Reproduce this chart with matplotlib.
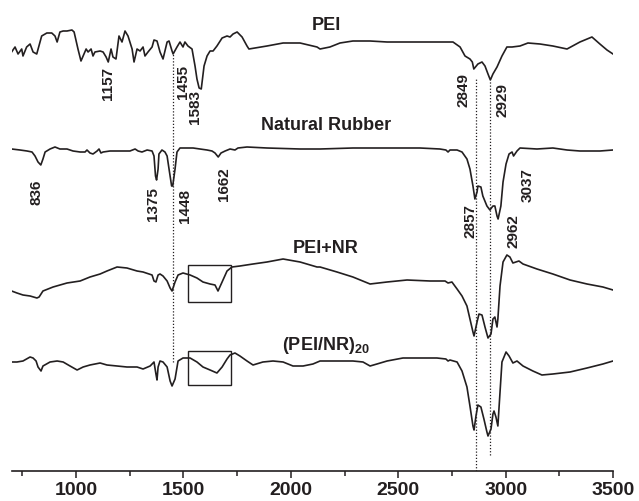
import numpy as np
import matplotlib
matplotlib.use('Agg')
import matplotlib.pyplot as plt
from matplotlib.patches import Rectangle

plt.rcParams['font.family'] = ['Liberation Sans', 'DejaVu Sans']
plt.rcParams['font.weight'] = 'bold'
plt.rcParams['mathtext.fontset'] = 'custom'
plt.rcParams['mathtext.rm'] = 'Liberation Sans'
plt.rcParams['mathtext.bf'] = 'Liberation Sans:bold'

ink = '#231f20'

# ---- spectra (wavenumber, relative signal) ----
pei_x = [700, 716, 730, 747, 753, 770, 786, 800, 817, 840, 864, 887, 902, 912, 925, 940, 958, 981, 991,
         1009, 1023, 1033, 1047, 1056, 1070, 1079, 1088, 1112, 1126, 1140, 1150, 1163, 1172, 1186, 1200,
         1214, 1228, 1242, 1261, 1270, 1284, 1298, 1312, 1321, 1335, 1354, 1363, 1377, 1391, 1405, 1424,
         1433, 1447, 1452, 1470, 1484, 1498, 1507, 1521, 1540, 1554, 1563, 1573, 1583, 1596, 1610, 1624,
         1638, 1656, 1680, 1703, 1717, 1731, 1750, 1773, 1796, 1805, 1889, 1964, 2043, 2122, 2136, 2182,
         2229, 2289, 2369, 2448, 2522, 2601, 2680, 2755, 2788, 2811, 2834, 2845, 2852, 2871, 2890, 2904,
         2918, 2929, 2941, 2960, 2983, 3006, 3030, 3067, 3104, 3160, 3220, 3286, 3346, 3402, 3439, 3472, 3500]
pei_y = [-3, 2, -5, 0, -7, 2, 5, -3, -5, 13, 16, 16, 13, 7, 17, 18, 18, 19, 17,
         0, -12, -7, 0, -3, 0, -7, -3, -2, -3, -8, -13, 0, -8, -10, 13,
         7, 18, 13, 0, -13, 0, -2, 2, -7, -3, 2, 9, 8, -3, -10, 7,
         8, -2, -5, 2, 7, 2, 7, 3, 0, -17, -30, -39, -40, -17, -7, -2,
         -2, 3, 11, 13, 12, 15, 17, 12, 3, 0, 3, 6, 6, 2, 0, 2,
         6, 8, 8, 7, 7, 7, 7, 7, 2, -7, -10, -13, -20, -15, -13, -17,
         -25, -31, -25, -18, -7, 2, 2, 3, 6, 5, 3, 0, 7, 12, 5, -1, -5]

nr_x = [700, 739, 772, 795, 809, 823, 836, 846, 856, 879, 902, 925, 958, 986, 1019, 1042, 1051, 1065,
        1079, 1098, 1107, 1116, 1126, 1158, 1205, 1251, 1275, 1289, 1307, 1331, 1354, 1363, 1370, 1375,
        1382, 1386, 1400, 1414, 1424, 1433, 1445, 1450, 1461, 1470, 1484, 1517, 1545, 1577, 1610, 1633,
        1647, 1662, 1675, 1694, 1717, 1740, 1754, 1796, 1889, 2043, 2136, 2289, 2448, 2601, 2694, 2722,
        2732, 2741, 2774, 2797, 2820, 2834, 2848, 2857, 2867, 2871, 2885, 2894, 2913, 2927, 2941, 2950,
        2960, 2965, 2978, 2988, 3002, 3016, 3030, 3037, 3053, 3067, 3146, 3220, 3286, 3346, 3439, 3500]
nr_y = [0, -1, -2, -3, -7, -13, -16, -10, -3, 0, 2, 0, 0, -2, -3, -3, -1, -4,
        -5, -2, 0, -4, -3, -2, -2, -2, 0, -2, -3, -1, -2, -7, -27, -31,
        -20, -5, -1, -3, -7, -20, -37, -37, -20, -3, 1, 1, 1, 0, -1, -2,
        -4, -8, -4, -2, 0, -1, 1, 2, 1, 0, 0, 1, 1, 1, 0, -1,
        -3, -1, -1, -3, -10, -20, -37, -50, -43, -37, -38, -47, -57, -61, -57, -57,
        -67, -70, -57, -33, -15, -5, -3, -7, -2, 1, 0, 1, -1, -2, -2, -1]

mix_x = [700, 725, 753, 786, 818, 828, 846, 893, 958, 1019, 1065, 1112, 1144, 1191, 1237, 1284, 1312,
         1354, 1363, 1372, 1382, 1391, 1405, 1424, 1438, 1447, 1461, 1475, 1498, 1531, 1563, 1591, 1624,
         1647, 1661, 1680, 1703, 1726, 1763, 1824, 1889, 1964, 2043, 2122, 2136, 2215, 2289, 2369, 2448,
         2541, 2648, 2718, 2732, 2750, 2774, 2797, 2820, 2834, 2848, 2853, 2867, 2876, 2890, 2904, 2918,
         2932, 2941, 2950, 2960, 2964, 2974, 2988, 3006, 3020, 3034, 3062, 3081, 3146, 3220, 3300, 3379,
         3453, 3500]
mix_y = [-12, -14, -16, -17, -19, -18, -12, -8, -4, -2, 2, 5, 8, 12, 11, 8, 7,
         4, -2, -3, 4, 5, 3, -2, -9, -12, -3, 4, 6, 4, 1, -3, -5,
         -6, -12, -3, 8, 12, 13, 15, 17, 20, 17, 12, 12, 7, 2, -5, -3,
         -1, -2, -2, -4, -3, -10, -17, -27, -40, -53, -57, -43, -35, -36, -48, -59,
         -55, -40, -38, -48, -40, -7, 17, 24, 22, 16, 18, 15, 10, 5, -1, -5,
         -8, -11]

lbl_x = [700, 725, 753, 786, 800, 814, 823, 837, 846, 879, 912, 940, 972, 1005, 1033, 1065, 1112,
         1144, 1191, 1237, 1284, 1312, 1345, 1363, 1372, 1377, 1382, 1391, 1405, 1424, 1438, 1447, 1461,
         1475, 1498, 1531, 1563, 1591, 1624, 1656, 1680, 1703, 1717, 1740, 1763, 1796, 1824, 1870, 1917,
         1964, 2010, 2057, 2103, 2136, 2215, 2289, 2336, 2369, 2401, 2448, 2522, 2601, 2680, 2722, 2732,
         2741, 2774, 2797, 2820, 2834, 2848, 2853, 2862, 2871, 2885, 2899, 2913, 2918, 2932, 2941, 2946,
         2955, 2964, 2969, 2983, 3002, 3016, 3034, 3053, 3081, 3127, 3169, 3220, 3300, 3379, 3453, 3500]
lbl_y = [2, 2, 3, 7, 6, 3, -3, -7, -2, 2, 3, 2, -2, -6, -3, -1, 1,
         -1, -2, -3, -3, -5, -2, 2, -10, -16, -3, 3, 2, -3, -17, -22, -15,
         3, 6, 6, 2, -3, -6, -9, -3, 5, 9, 11, 8, 3, -1, 2, 3,
         2, -2, -2, 0, 3, 3, 3, 2, -2, 0, 3, 6, 6, 6, 5, 3,
         4, 2, -7, -23, -42, -62, -66, -52, -41, -43, -55, -68, -72, -65, -50, -47,
         -53, -62, -45, 2, 12, 8, 1, 3, -2, -7, -11, -10, -8, -4, 0, 3]

names = ['PEI', 'Natural Rubber', 'PEI+NR', r'(PEI/NR)$_{\mathbf{20}}$']
offsets = [-50, -150, -280, -365]
name_y = [-30, -130, -253, -350]

# peak labels: (text, wavenumber, height)
peaks = [('1157', 1150, -83), ('1455', 1500, -82), ('1583', 1554, -107),
         ('2849', 2802, -90), ('2929', 2986, -100),
         ('836', 818, -192), ('1375', 1358, -204), ('1448', 1509, -206),
         ('1662', 1688, -184), ('2857', 2836, -221), ('3037', 3104, -185),
         ('2962', 3039, -231)]

fig = plt.figure(figsize=(6.39, 5.02), dpi=100)
ax = fig.add_axes([11.6 / 639, 30.3 / 502, 601.4 / 639, 471.7 / 502])

# guide lines
ax.vlines(1452, -363, -55, colors=ink, linestyles=(0, (1, 1.5)), lw=0.9)
ax.vlines(2861, -472, -80, colors=ink, linestyles=(0, (1, 1.5)), lw=0.9)
ax.vlines(2927, -456, -82, colors=ink, linestyles=(0, (1, 1.5)), lw=0.9)

series = [(pei_x, pei_y), (nr_x, nr_y), (mix_x, mix_y), (lbl_x, lbl_y)]
for (xs, ys), off in zip(series, offsets):
    ax.plot(xs, np.array(ys) + off, color=ink, lw=1.2)

for name, ny in zip(names, name_y):
    ax.text(2164, ny, name, ha='center', va='baseline', fontsize=13, fontweight='bold', color=ink)

for txt, px, py in peaks:
    ax.text(px, py, txt, rotation=90, ha='center', va='center', fontsize=11, fontweight='bold', color=ink)

# boxed regions
for y0, y1 in [(-303, -266), (-386, -352)]:
    ax.add_patch(Rectangle((1521, y0), 201, y1 - y0, fill=False, ec=ink, lw=1.0))

ax.set_xlim(700, 3500)
ax.set_ylim(-471.7, 0)
ax.set_xticks([1000, 1500, 2000, 2500, 3000, 3500])
ax.set_xticks([750, 1250, 1750, 2250, 2750, 3250], minor=True)
ax.set_yticks([])
for s in ['left', 'right', 'top']:
    ax.spines[s].set_visible(False)
ax.spines['bottom'].set_linewidth(1.2)
ax.spines['bottom'].set_color(ink)
ax.tick_params(axis='x', which='major', length=5, width=1.1, labelsize=14, pad=2.5, colors=ink)
ax.tick_params(axis='x', which='minor', length=3.5, width=1.1, colors=ink)
for lab in ax.get_xticklabels():
    lab.set_fontweight('bold')

fig.savefig('out.png', dpi=100)
